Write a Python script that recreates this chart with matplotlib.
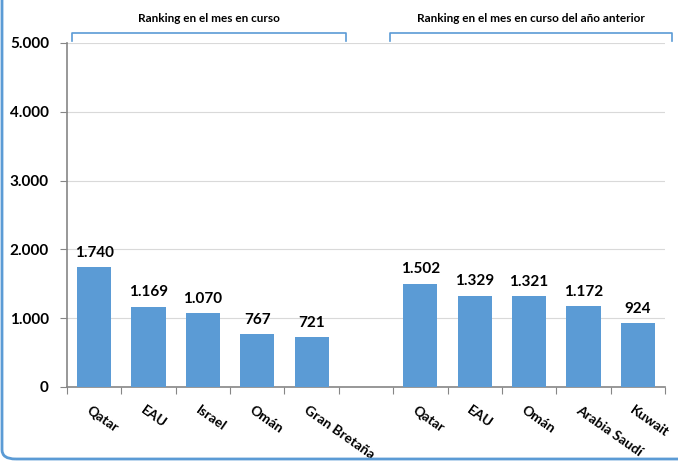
import matplotlib.pyplot as plt
from matplotlib.patches import FancyBboxPatch

# data
countries_now = ['Qatar', 'EAU', 'Israel', 'Omán', 'Gran Bretaña']
values_now = [1740, 1169, 1070, 767, 721]
countries_prev = ['Qatar', 'EAU', 'Omán', 'Arabia Saudí', 'Kuwait']
values_prev = [1502, 1329, 1321, 1172, 924]
yticks = [0, 1000, 2000, 3000, 4000, 5000]
ytick_labels = ['0', '1.000', '2.000', '3.000', '4.000', '5.000']
group_titles = ['Ranking en el mes en curso', 'Ranking en el mes en curso del año anterior']

bar_color = '#5B9BD5'
plt.rcParams['font.family'] = ['Lato', 'DejaVu Sans']

labels = countries_now + [''] + countries_prev
values = values_now + [None] + values_prev
xs = list(range(len(labels)))

fig = plt.figure(figsize=(6.78, 4.63), dpi=100)
ax = fig.add_axes([67 / 678, 1 - 387 / 463, 598 / 678, 344 / 463])

for x, v in zip(xs, values):
    if v is None:
        continue
    ax.bar(x, v, width=0.63, color=bar_color, zorder=3)
    ax.text(x, v + 110, f'{v:,}'.replace(',', '.'), ha='center', va='bottom',
            fontsize=11, fontweight='bold')

ax.set_xlim(-0.5, len(labels) - 0.5)
ax.set_ylim(0, 5000)
ax.set_yticks(yticks)
ax.set_yticklabels(ytick_labels, fontsize=11, fontweight='bold')
ax.yaxis.grid(True, color='#d9d9d9', linewidth=0.8, zorder=0)

# category ticks between bars, labels rotated
ax.set_xticks([x - 0.5 for x in xs] + [len(labels) - 0.5])
ax.set_xticklabels([])
ax.tick_params(axis='x', direction='out', length=5, color='#868686')
ax.tick_params(axis='y', direction='out', length=5, color='#868686', pad=8)
for x, lab in zip(xs, labels):
    ax.text(x - 0.05, -250, lab, rotation=-35, rotation_mode='anchor',
            ha='left', va='top', fontsize=10, fontweight='bold')

for side in ['top', 'right']:
    ax.spines[side].set_visible(False)
for side in ['left', 'bottom']:
    ax.spines[side].set_color('#868686')
    ax.spines[side].set_linewidth(1.2)

# group brackets above the plot
def bracket(x0, x1, title):
    y_top = 1 - 33 / 463
    y_bot = 1 - 41 / 463
    fx0, fx1 = x0 / 678, x1 / 678
    fig.add_artist(plt.Line2D([fx0, fx0, fx1, fx1], [y_bot, y_top, y_top, y_bot],
                              color=bar_color, linewidth=1.2, transform=fig.transFigure))
    fig.text((fx0 + fx1) / 2, 1 - 19 / 463, title, ha='center', va='center',
             fontsize=8.5, fontweight='bold')

bracket(72, 346, group_titles[0])
bracket(390, 672, group_titles[1])

# rounded outer frame, only left and bottom sides visible
frame = FancyBboxPatch((2 / 678, 4 / 463), 1.5, 1.5,
                       boxstyle='round,pad=0,rounding_size=0.02',
                       transform=fig.transFigure, fill=False,
                       edgecolor=bar_color, linewidth=2, clip_on=False)
fig.add_artist(frame)

fig.savefig('out.png', dpi=100)
